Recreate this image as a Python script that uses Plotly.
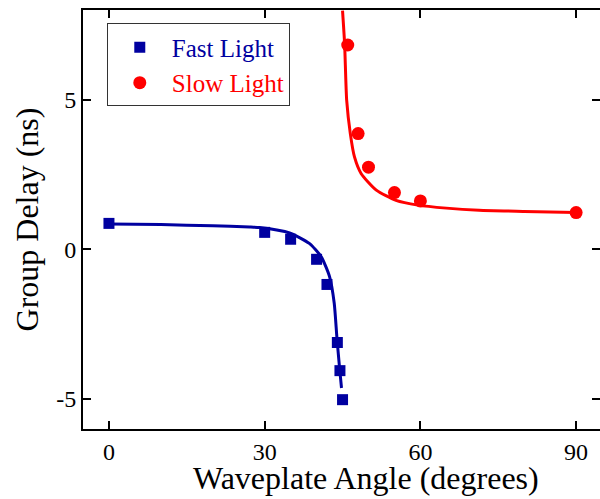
import plotly.graph_objects as go

# Measured data
fast_x = [0, 30, 35, 40, 42, 44, 44.5, 45]
fast_y = [0.87, 0.57, 0.34, -0.33, -1.17, -3.11, -4.05, -5.02]
slow_x = [46, 48, 50, 55, 60, 90]
slow_y = [6.83, 3.87, 2.75, 1.90, 1.62, 1.23]

# Fit curves
fast_fit_x = [0, 10, 20, 27.1, 29, 34.8, 38.6, 40.9, 42.5, 43.4, 43.9, 44.4, 44.8]
fast_fit_y = [0.85, 0.83, 0.79, 0.75, 0.73, 0.55, 0.2, -0.25, -0.91, -1.8, -2.91, -3.91, -4.63]
slow_fit_x = [45.0, 45.4, 45.8, 46.5, 47.3, 48.6, 51.5, 55.3, 59.5, 65, 71.3, 80, 90]
slow_fit_y = [7.98, 6.87, 4.98, 3.87, 3.09, 2.53, 1.98, 1.64, 1.48, 1.38, 1.31, 1.27, 1.23]

x_ticks = [0, 30, 60, 90]
y_ticks = [-5, 0, 5]

BLUE = "#0000a0"
RED = "#ff0000"
FONT = "Liberation Serif"

fig = go.Figure()
fig.add_trace(go.Scatter(x=fast_fit_x, y=fast_fit_y, mode="lines",
                         line=dict(color=BLUE, width=3, shape="spline", smoothing=0.6),
                         showlegend=False, hoverinfo="skip"))
fig.add_trace(go.Scatter(x=slow_fit_x, y=slow_fit_y, mode="lines",
                         line=dict(color=RED, width=3, shape="spline", smoothing=0.6),
                         showlegend=False, hoverinfo="skip"))
fig.add_trace(go.Scatter(x=fast_x, y=fast_y, mode="markers",
                         marker=dict(symbol="square", size=11, color=BLUE),
                         name='<span style="color:#0000a0">Fast Light</span>'))
fig.add_trace(go.Scatter(x=slow_x, y=slow_y, mode="markers",
                         marker=dict(symbol="circle", size=13, color=RED),
                         name='<span style="color:#ff0000">Slow Light</span>'))
# invisible trace for right-side axis ticks
fig.add_trace(go.Scatter(x=[0], y=[0], yaxis="y2", mode="markers",
                         marker=dict(opacity=0), showlegend=False, hoverinfo="skip"))

axis_common = dict(showgrid=False, zeroline=False, ticks="inside", ticklen=8,
                   tickwidth=1.5, tickcolor="black", linecolor="black", linewidth=2,
                   tickfont=dict(family=FONT, size=24, color="black"))

fig.update_layout(
    width=600, height=499,
    margin=dict(l=83, r=0, t=10, b=70),
    paper_bgcolor="white", plot_bgcolor="white",
    xaxis=dict(range=[-5, 94.6], tickvals=x_ticks, showline=True, mirror="ticks",
               **axis_common),
    yaxis=dict(range=[-6, 8], tickvals=y_ticks, showline=True, mirror=False,
               ticktext=[str(v) for v in y_ticks],
               title=dict(text="Group Delay (ns)", font=dict(family=FONT, size=32, color="black"),
                          standoff=8),
               **axis_common),
    yaxis2=dict(range=[-6, 8], tickvals=y_ticks, overlaying="y", side="right",
                showline=False, showticklabels=False, showgrid=False, zeroline=False,
                ticks="inside", ticklen=8, tickwidth=1.5, tickcolor="black"),
    legend=dict(x=0.046, y=0.968, xanchor="left", yanchor="top",
                bordercolor="#333333", borderwidth=1, bgcolor="white",
                font=dict(family=FONT, size=25, color="black"),
                itemwidth=54),
    showlegend=True,
    annotations=[dict(text="Waveplate Angle (degrees)", xref="paper", yref="paper",
                      x=0.547, y=-0.118, xanchor="center", yanchor="middle",
                      showarrow=False, font=dict(family=FONT, size=32, color="black"))],
)

fig.write_html("out.html", config={"displayModeBar": False},
               post_script="document.body.style.margin='0px';")
